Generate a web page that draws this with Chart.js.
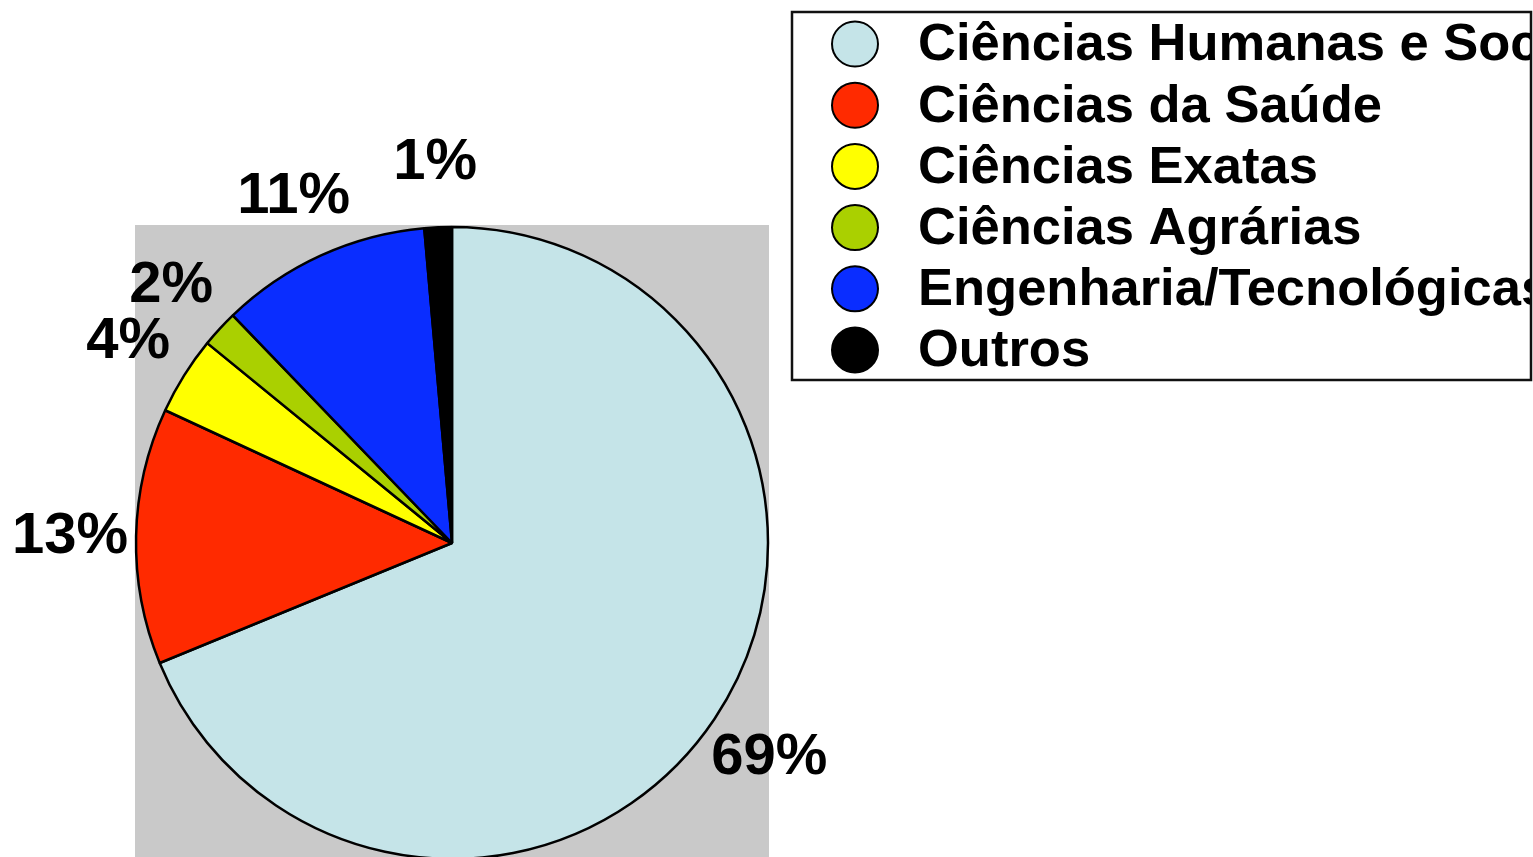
<!DOCTYPE html>
<html>
<head>
<meta charset="utf-8">
<script src="https://cdn.jsdelivr.net/npm/chart.js@4"></script>
<style>
  body { margin: 0; overflow: hidden; background: #fff; }
  #wrap { width: 1533px; height: 900px; position: relative; }
</style>
</head>
<body>
<div id="wrap"><canvas id="myChart"></canvas></div>
<script>
// data
const areas = ['Ciências Humanas e Sociais', 'Ciências da Saúde', 'Ciências Exatas', 'Ciências Agrárias', 'Engenharia/Tecnológicas', 'Outros'];
const shares = [68.8, 13.1, 4.0, 1.9, 10.8, 1.4];
const colors = ['#C5E4E8', '#FF2A00', '#FFFF00', '#AAD000', '#0A2DFF', '#000000'];

const FONT = '"Liberation Sans", Arial, sans-serif';

// grey square behind the pie
const backdrop = {
  id: 'backdrop',
  beforeDatasetsDraw(chart) {
    const arc = chart.getDatasetMeta(0).data[0];
    const c = chart.ctx;
    c.save();
    c.fillStyle = '#C9C9C9';
    c.fillRect(arc.x - arc.outerRadius - 1, arc.y - arc.outerRadius - 2, 2 * arc.outerRadius + 2, 2 * arc.outerRadius + 60);
    c.restore();
  }
};

// percent labels outside the slices
const pctLabels = {
  id: 'pctLabels',
  afterDatasetsDraw(chart) {
    const c = chart.ctx;
    const total = shares.reduce((a, b) => a + b, 0);
    c.save();
    c.font = 'bold 58px ' + FONT;
    c.fillStyle = '#000';
    c.textAlign = 'center';
    c.textBaseline = 'middle';
    chart.getDatasetMeta(0).data.forEach((arc, i) => {
      const mid = (arc.startAngle + arc.endAngle) / 2;
      const r = arc.outerRadius + 66;
      const txt = Math.round(shares[i] / total * 100) + '%';
      c.fillText(txt, arc.x + Math.cos(mid) * r, arc.y + Math.sin(mid) * r + 2);
    });
    c.restore();
  }
};

// boxed legend on the right, cut by the page edge
const boxLegend = {
  id: 'boxLegend',
  afterDraw(chart) {
    const c = chart.ctx;
    const x0 = 792, y0 = 12, x1 = 1531, y1 = 380;
    c.save();
    c.lineWidth = 2.5;
    c.strokeStyle = '#111';
    c.strokeRect(x0, y0, x1 - x0, y1 - y0);
    c.beginPath();
    c.rect(x0 + 1, y0 + 1, x1 - x0 - 2, y1 - y0 - 2);
    c.clip();
    c.font = 'bold 52.5px ' + FONT;
    c.textBaseline = 'middle';
    chart.data.labels.forEach((lab, i) => {
      const y = 44 + i * 61.2;
      c.beginPath();
      c.ellipse(855, y, 23, 22.5, 0, 0, Math.PI * 2);
      c.fillStyle = colors[i];
      c.fill();
      c.lineWidth = 2;
      c.strokeStyle = '#000';
      c.stroke();
      c.fillStyle = '#000';
      c.fillText(lab, 918, y + 2);
    });
    c.restore();
  }
};

const ctx = document.getElementById('myChart').getContext('2d');
const myChart = new Chart(ctx, {
  type: 'pie',
  data: {
    labels: areas,
    datasets: [{
      data: shares,
      backgroundColor: colors,
      borderColor: '#000',
      borderWidth: 2.5,
      radius: 316
    }]
  },
  options: {
    responsive: true,
    maintainAspectRatio: false,
    animation: false,
    layout: { padding: { left: 130, right: 759, top: 220, bottom: 34 } },
    plugins: {
      legend: { display: false },
      tooltip: { enabled: false }
    }
  },
  plugins: [backdrop, pctLabels, boxLegend]
});
</script>
</body>
</html>
